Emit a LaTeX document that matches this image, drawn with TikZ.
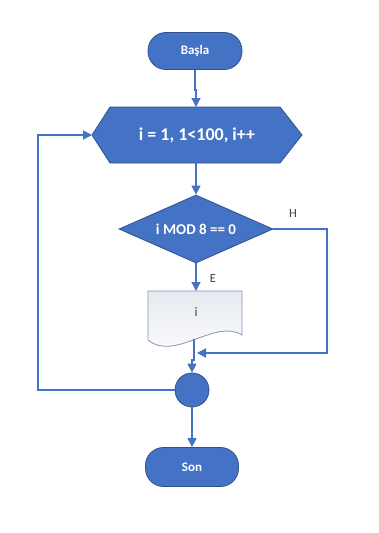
\documentclass[tikz,border=0pt]{standalone}
\usepackage{fontspec}
\setmainfont{Carlito}
\usetikzlibrary{shapes.geometric,arrows.meta}
\definecolor{obl}{HTML}{4472C4}
\definecolor{obd}{HTML}{2F528F}
\definecolor{docbd}{HTML}{8497B0}
\definecolor{doctop}{HTML}{E6E9EF}
\definecolor{lbl}{HTML}{404040}
\tikzset{
  term/.style={draw=obd, line width=0.8pt, fill=obl, rounded corners=18pt, text=white, font=\fontsize{13}{15}\selectfont\bfseries, inner sep=0pt},
  bluefill/.style={draw=obd, line width=0.8pt, fill=obl},
  whitetxt/.style={text=white, font=\fontsize{18}{20}\selectfont\bfseries, inner sep=0pt},
  decis/.style={diamond, draw=obd, line width=0.8pt, fill=obl, inner sep=0pt, minimum width=154pt, minimum height=68pt},
  dectxt/.style={text=white, font=\fontsize{15}{17}\selectfont\bfseries, inner sep=0pt},
  junc/.style={circle, draw=obd, line width=0.8pt, fill=obl, minimum size=34pt, inner sep=0pt},
  conn/.style={draw=obl, line width=1.3pt, -{Triangle[length=9pt,width=9pt]}},
  lab/.style={text=lbl, font=\fontsize{12.5}{14}\selectfont, inner sep=0pt}
}
\begin{document}
\begin{tikzpicture}[x=1pt,y=-1pt]
\useasboundingbox (0,0) rectangle (379,533);
\fill[white] (0,0) rectangle (379,533);
% start
\node[term, minimum width=94pt, minimum height=37pt] (start) at (195,51) {Başla};
% hexagon loop header
\path[bluefill] (92,135) -- (110,107) -- (280,107) -- (302,135) -- (280,163) -- (110,163) -- cycle;
\node[whitetxt] (loop) at (197,135) {i = 1, 1<100, i++};
\coordinate (loopN) at (196,107);
\coordinate (loopS) at (196,163);
\coordinate (loopW) at (92,135);
% decision
\node[decis] (dec) at (196,229) {};
\node[dectxt] (dect) at (dec.center) {i MOD 8 == 0};
% document
\path[draw=docbd, line width=0.8pt, top color=doctop, bottom color=white]
  (148,291) -- (242,291) -- (242,335) .. controls (215,318) and (175,362) .. (148,340) -- cycle;
\node[text=lbl, font=\fontsize{13}{15}\selectfont, inner sep=0pt] (doc) at (196,312) {i};
\coordinate (docN) at (196,291);
\coordinate (docS) at (194,339);
% junction
\node[junc] (jn) at (192,390) {};
% end
\node[term, minimum width=93pt, minimum height=39pt] (stop) at (192,467) {Son};
% connectors
\coordinate (j1) at (196,90);
\draw[conn] (start.south) |- (j1) -- (loopN);
\draw[conn] (loopS) -- (dec.north);
\draw[conn] (dec.south) -- (docN);
\coordinate (hR) at (327,353);
\coordinate (hEnd) at (197,353);
\draw[conn] (dec.east) -| (hR) -- (hEnd);
\coordinate (j2) at (192,360);
\draw[conn] (docS) |- (j2) -- (jn.north);
\draw[conn] (jn.south) -- (stop.north);
\coordinate (lL) at (38,390);
\draw[conn] (jn.west) -- (lL) |- (loopW);
% labels
\node[lab] (lh) at (293,213) {H};
\node[lab] (le) at (213,278) {E};
\end{tikzpicture}
\end{document}
